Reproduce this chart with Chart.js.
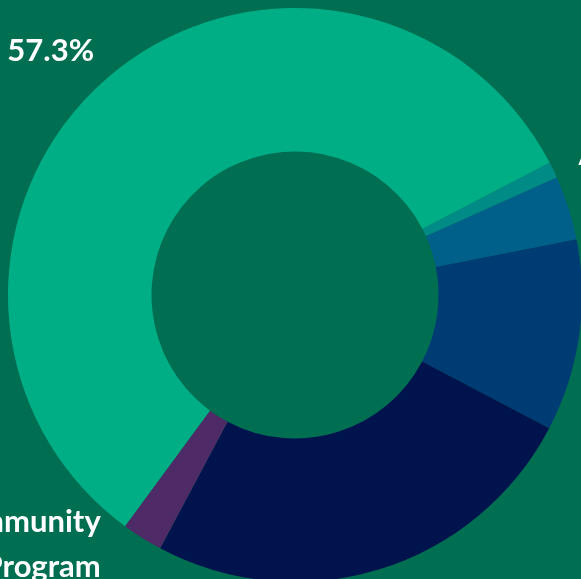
<!DOCTYPE html>
<html>
<head>
<meta charset="utf-8">
<script src="https://cdn.jsdelivr.net/npm/chart.js@4.4.1/dist/chart.umd.min.js"></script>
<style>
  html, body { margin: 0; padding: 0; background: #006E51; overflow: hidden; width: 581px; height: 579px; }
  #wrap { position: absolute; left: 0; top: 0; width: 590px; height: 590px; }
</style>
</head>
<body>
<div id="wrap"><canvas id="c" width="590" height="590"></canvas></div>
<script>
// ---- data ----
const categories = ["General Support", "Auxiliary Services", "Research Grants", "Public Service", "Instruction", "Community Program"];
const categoryLines = [["General Support"], ["Auxiliary Services"], ["Research Grants"], ["Public Service"], ["Instruction"], ["Community", "Program"]];
const values = [57.3, 0.9, 3.6, 10.8, 25.1, 2.3];
const colors = ["#00AE86", "#008B87", "#006089", "#003C74", "#00134D", "#4E2A66"];

const labelPlugin = {
  id: 'outLabels',
  afterDatasetsDraw(chart) {
    const ctx = chart.ctx;
    const meta = chart.getDatasetMeta(0);
    const total = values.reduce((a, b) => a + b, 0);
    ctx.save();
    ctx.fillStyle = '#FFFFFF';
    ctx.font = 'bold 31px Lato, "Open Sans", sans-serif';
    ctx.textBaseline = 'middle';
    const lh = 45;
    meta.data.forEach((arc, i) => {
      const p = arc.getProps(['x', 'y', 'startAngle', 'endAngle', 'outerRadius'], true);
      const mid = (p.startAngle + p.endAngle) / 2;
      const dx = Math.cos(mid), dy = Math.sin(mid);
      const left = dx < 0;
      const pct = (values[i] / total * 100).toFixed(1) + '%';
      const base = categoryLines[i];
      const lines = base.length === 1 ? [base[0] + ' ' + pct] : base;
      // last line sits on the label ring, block grows upward
      const yLast = p.y + dy * (p.outerRadius + 34);
      const yMid = yLast - (lines.length - 1) * lh / 2;
      const rx = p.outerRadius + 29;
      const off = Math.sqrt(Math.max(0, rx * rx - (yMid - p.y) * (yMid - p.y)));
      const ax = p.x + (left ? -off : off);
      ctx.textAlign = left ? 'right' : 'left';
      const y0 = yLast - (lines.length - 1) * lh;
      lines.forEach((ln, k) => ctx.fillText(ln, ax, y0 + k * lh));
    });
    ctx.restore();
  }
};

new Chart(document.getElementById('c'), {
  type: 'doughnut',
  data: {
    labels: categories,
    datasets: [{
      data: values,
      backgroundColor: colors,
      borderWidth: 0,
      hoverOffset: 0
    }]
  },
  options: {
    responsive: false,
    animation: false,
    rotation: 216.3,
    cutout: '50%',
    layout: { padding: 8 },
    plugins: {
      legend: { display: false },
      tooltip: { enabled: false }
    }
  },
  plugins: [labelPlugin]
});
</script>
</body>
</html>
